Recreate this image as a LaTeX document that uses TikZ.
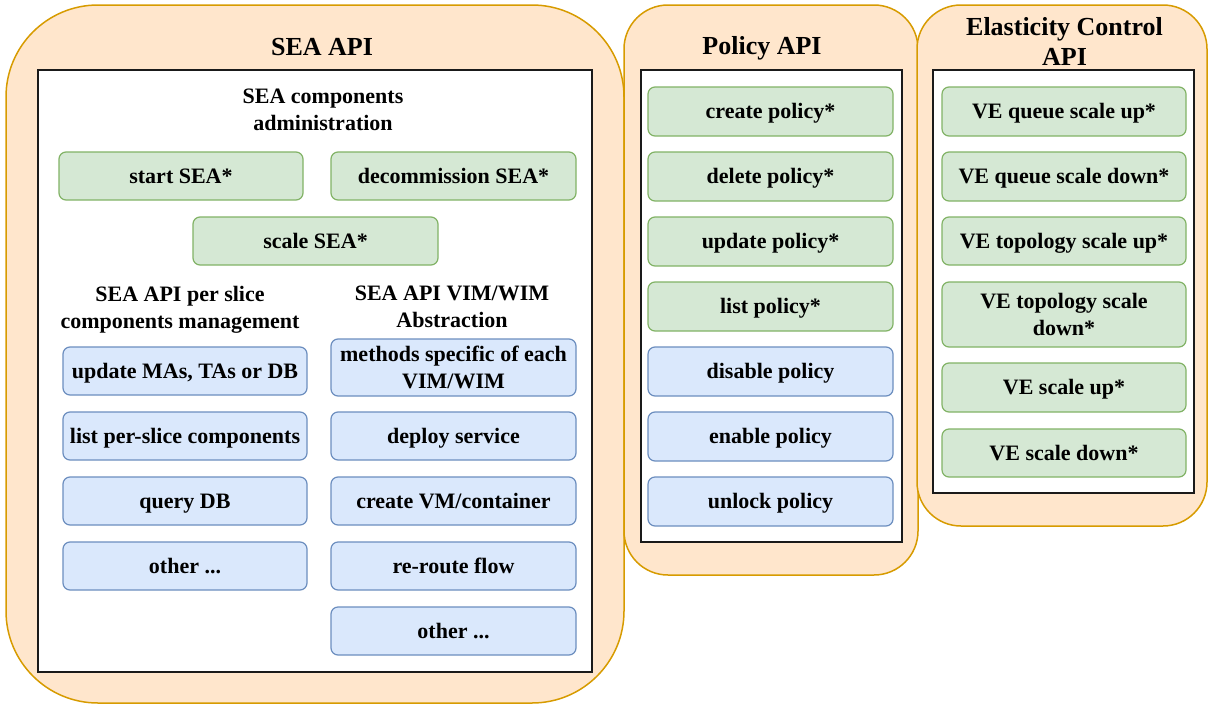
\documentclass[tikz,border=0pt]{standalone}
\usepackage{fontspec}
\setmainfont{LiberationSerif}[Extension=.ttf, UprightFont=*-Regular, BoldFont=*-Bold, ItalicFont=*-Italic, BoldItalicFont=*-BoldItalic]
\definecolor{panelfill}{HTML}{FFE6CC}
\definecolor{paneldraw}{HTML}{D79B00}
\definecolor{greenfill}{HTML}{D5E8D4}
\definecolor{greendraw}{HTML}{82B366}
\definecolor{bluefill}{HTML}{DAE8FC}
\definecolor{bluedraw}{HTML}{6C8EBF}
\definecolor{framedraw}{HTML}{1A1A1A}
\begin{document}
\begin{tikzpicture}[x=1pt,y=-1pt,
  panel/.style={draw=paneldraw, fill=panelfill, line width=1.5pt, inner sep=0pt},
  frame/.style={draw=framedraw, fill=white, line width=1.8pt, inner sep=0pt},
  item/.style={rounded corners=7pt, line width=1.2pt, inner sep=0pt,
    font=\fontsize{22pt}{27pt}\selectfont\bfseries, align=center},
  oneline/.style={text height=14.4pt, text depth=0pt},
  gbox/.style={item, oneline, draw=greendraw, fill=greenfill},
  gboxtwo/.style={item, draw=greendraw, fill=greenfill},
  bbox/.style={item, oneline, draw=bluedraw, fill=bluefill},
  bboxtwo/.style={item, draw=bluedraw, fill=bluefill},
  heading/.style={font=\fontsize{22pt}{27pt}\selectfont\bfseries, align=center, inner sep=0pt},
  title/.style={font=\fontsize{26pt}{30pt}\selectfont\bfseries, align=center, inner sep=0pt},
]
\useasboundingbox (0,0) rectangle (1209,704);

% outer panels
\node[panel, rounded corners=92pt, minimum width=618pt, minimum height=698pt] (seapanel) at (315,354) {};
\node[panel, rounded corners=44pt, minimum width=294pt, minimum height=570pt] (polpanel) at (771,290) {};
\node[panel, rounded corners=44pt, minimum width=290pt, minimum height=521pt] (elapanel) at (1062,265.5) {};

% white frames
\node[frame, minimum width=554pt, minimum height=602pt] (seaframe) at (315,371) {};
\node[frame, minimum width=261pt, minimum height=472pt] (polframe) at (771.5,306) {};
\node[frame, minimum width=261pt, minimum height=423pt] (elaframe) at (1063.5,281.5) {};

% panel titles
\node[title, anchor=base] (seatitle) at (322,55) {SEA API};
\node[title, anchor=base] (poltitle) at (762,54.5) {Policy API};
\node[title, anchor=north] (elatitle) at (1064.5,17.4) {Elasticity Control\\API};

% SEA API: component administration
\node[heading, anchor=north] (adminhead) at (323,89) {SEA components\\administration};
\node[gbox, minimum width=244pt, minimum height=48pt] (startsea) at (181,176) {start SEA*};
\node[gbox, minimum width=245pt, minimum height=48pt] (decomsea) at (453.5,176) {decommission SEA*};
\node[gbox, minimum width=245pt, minimum height=48pt] (scalesea) at (315.5,241) {scale SEA*};

% SEA API: per-slice management
\node[heading, anchor=north] (slicehead) at (180,286) {SEA API per slice\\components management};
\node[bbox, minimum width=244pt, minimum height=48pt] (updma) at (185,371) {update MAs, TAs or DB};
\node[bbox, minimum width=244pt, minimum height=48pt] (listps) at (185,436) {list per-slice components};
\node[bbox, minimum width=244pt, minimum height=48pt] (querydb) at (185,501) {query DB};
\node[bbox, minimum width=244pt, minimum height=48pt] (otherl) at (185,566) {other ...};

% SEA API: VIM/WIM abstraction
\node[heading, anchor=north] (vimhead) at (452,286) {SEA API VIM/WIM\\Abstraction};
\node[bboxtwo, minimum width=245pt, minimum height=57pt] (methods) at (453.5,367.5) {methods specific of each\\VIM/WIM};
\node[bbox, minimum width=245pt, minimum height=48pt] (deploy) at (453.5,436) {deploy service};
\node[bbox, minimum width=245pt, minimum height=48pt] (createvm) at (453.5,501) {create VM/container};
\node[bbox, minimum width=245pt, minimum height=48pt] (reroute) at (453.5,566) {re-route flow};
\node[bbox, minimum width=245pt, minimum height=48pt] (otherr) at (453.5,631) {other ...};

% Policy API
\node[gbox, minimum width=245pt, minimum height=49pt] (pcreate) at (770.5,111.5) {create policy*};
\node[gbox, minimum width=245pt, minimum height=49pt] (pdelete) at (770.5,176.5) {delete policy*};
\node[gbox, minimum width=245pt, minimum height=49pt] (pupdate) at (770.5,241.5) {update policy*};
\node[gbox, minimum width=245pt, minimum height=49pt] (plist) at (770.5,306.5) {list policy*};
\node[bbox, minimum width=245pt, minimum height=49pt] (pdisable) at (770.5,371.5) {disable policy};
\node[bbox, minimum width=245pt, minimum height=49pt] (penable) at (770.5,436.5) {enable policy};
\node[bbox, minimum width=245pt, minimum height=49pt] (punlock) at (770.5,501.5) {unlock policy};

% Elasticity Control API
\node[gbox, minimum width=244pt, minimum height=49pt] (qup) at (1064,111.5) {VE queue scale up*};
\node[gbox, minimum width=244pt, minimum height=49pt] (qdown) at (1064,176.5) {VE queue scale down*};
\node[gbox, minimum width=244pt, minimum height=48pt] (tup) at (1064,241) {VE topology scale up*};
\node[gboxtwo, minimum width=244pt, minimum height=65pt] (tdown) at (1064,314.5) {VE topology scale\\down*};
\node[gbox, minimum width=244pt, minimum height=49pt] (veup) at (1064,387.5) {VE scale up*};
\node[gbox, minimum width=244pt, minimum height=48pt] (vedown) at (1064,453) {VE scale down*};
\end{tikzpicture}
\end{document}
